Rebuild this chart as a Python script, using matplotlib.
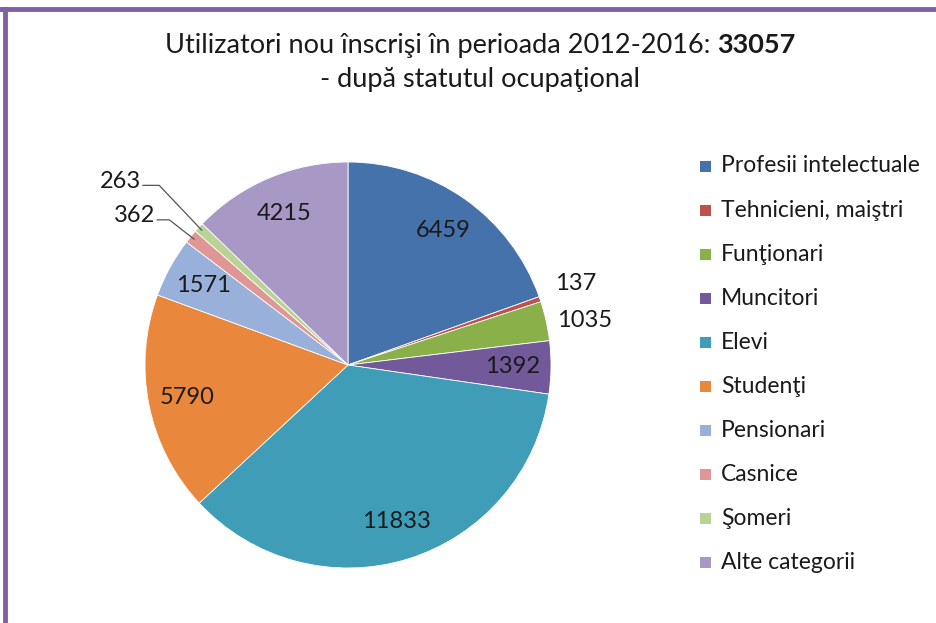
import numpy as np
import matplotlib.pyplot as plt
from matplotlib.patches import Rectangle
from matplotlib.lines import Line2D

plt.rcParams['font.family'] = ['Lato', 'DejaVu Sans']

# Date
categorii = ["Profesii intelectuale", "Tehnicieni, maiştri", "Funţionari", "Muncitori",
             "Elevi", "Studenţi", "Pensionari", "Casnice", "Şomeri", "Alte categorii"]
valori = [6459, 137, 1035, 1392, 11833, 5790, 1571, 362, 263, 4215]
culori = ["#4672AC", "#C0504D", "#8AB04A", "#72599A", "#3F9DB8", "#E9873C",
          "#98B0DA", "#DE9795", "#B8D393", "#A898C6"]
total = sum(valori)

W, H = 936, 623
fig = plt.figure(figsize=(W / 100, H / 100), dpi=100)

# chenar mov (sus si stanga)
fig.add_artist(Line2D([0, 1], [1 - 9 / H, 1 - 9 / H], transform=fig.transFigure,
                      color="#7E62A4", lw=3.5))
fig.add_artist(Line2D([4.5 / W, 4.5 / W], [0, 1 - 9 / H], transform=fig.transFigure,
                      color="#7E62A4", lw=3.5))

# titlu: partea normala + numarul ingrosat
t1 = fig.text(0, 1 - 45 / H, "Utilizatori nou înscrişi în perioada 2012-2016: ",
              fontsize=19.5, va="center", ha="left", color="#1a1a1a")
t2 = fig.text(0, 1 - 45 / H, str(total), fontsize=19.5, fontweight="bold",
              va="center", ha="left", color="#1a1a1a")
fig.canvas.draw()
r = fig.canvas.get_renderer()
w1 = t1.get_window_extent(r).width
w2 = t2.get_window_extent(r).width
x0 = 480 - (w1 + w2) / 2
t1.set_x(x0 / W)
t2.set_x((x0 + w1) / W)
fig.text(480 / W, 1 - 80 / H, "- după statutul ocupaţional", fontsize=19.5,
         ha="center", va="center", color="#1a1a1a")

# placinta
cx, cy, R = 348, 365, 203
ax = fig.add_axes([(cx - R) / W, (H - cy - R) / H, 2 * R / W, 2 * R / H])
wedges, _ = ax.pie(valori, colors=culori, startangle=90, counterclock=False,
                   radius=1, wedgeprops=dict(edgecolor="white", linewidth=0.6))
ax.set_xlim(-1, 1)
ax.set_ylim(-1, 1)
ax.set_aspect("equal")
ax.axis("off")

fs = 17
for i, (w, v) in enumerate(zip(wedges, valori)):
    mid = np.deg2rad((w.theta1 + w.theta2) / 2)
    if v in (137, 1035, 263, 362):
        continue
    ax.text(0.81 * np.cos(mid), 0.81 * np.sin(mid), str(v), fontsize=fs,
            ha="center", va="center", color="#1a1a1a")

# etichete exterioare
ax.text(1.02, 0.40, "137", fontsize=fs, ha="left", va="center", color="#1a1a1a")
ax.text(1.03, 0.22, "1035", fontsize=fs, ha="left", va="center", color="#1a1a1a")
for v, (lx, ly), hx in [(263, (-1.02, 0.905), -0.93), (362, (-0.95, 0.735), -0.88)]:
    w = wedges[valori.index(v)]
    mid = np.deg2rad((w.theta1 + w.theta2) / 2)
    ax.text(lx, ly, str(v), fontsize=fs, ha="right", va="center", color="#1a1a1a")
    ax.plot([lx + 0.01, hx, 0.98 * np.cos(mid)], [ly - 0.02, ly - 0.02, 0.98 * np.sin(mid)],
            color="#555555", lw=0.9, clip_on=False)

# legenda
for i, (c, nume) in enumerate(zip(culori, categorii)):
    y = 166 + i * 44.1
    fig.add_artist(Rectangle(((705 - 5.5) / W, 1 - (y + 5.5) / H), 11 / W, 11 / H,
                             transform=fig.transFigure, facecolor=c, edgecolor="none"))
    fig.text(721 / W, 1 - y / H, nume, fontsize=16.5, ha="left", va="center", color="#1a1a1a")

fig.savefig("out.png", dpi=100, facecolor="white")
